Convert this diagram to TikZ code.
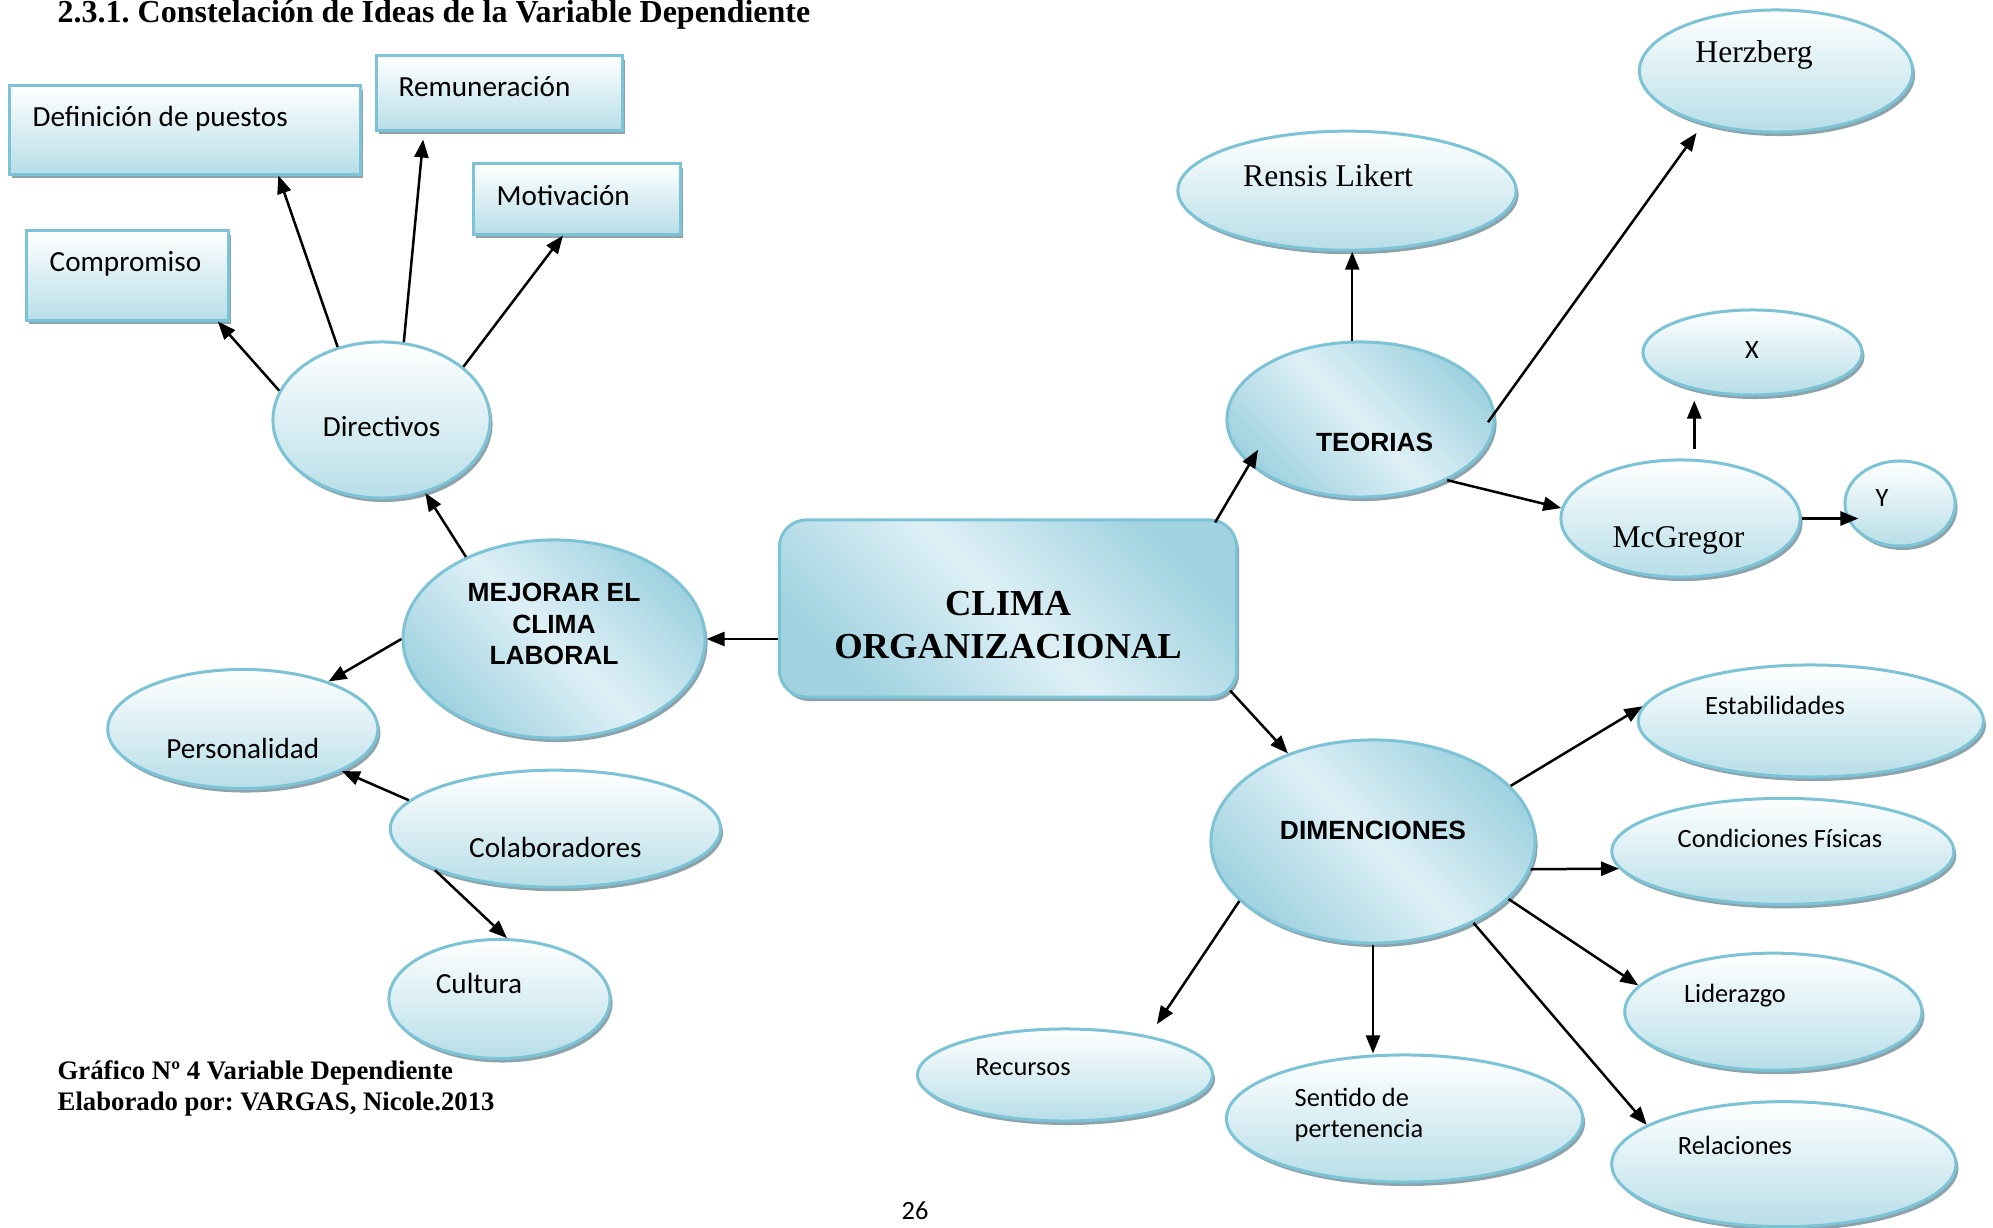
\documentclass[tikz,border=0pt]{standalone}
\usepackage{fontspec}
\setmainfont{Liberation Serif}
\newfontfamily\calibrif{Carlito}
\newfontfamily\arialf{Liberation Sans}
\usepackage{tikz}
\usetikzlibrary{shapes.geometric,shadows,arrows.meta}
\frenchspacing
\definecolor{aqborde}{RGB}{125,195,214}
\definecolor{aqfondo}{RGB}{183,222,232}
\definecolor{aqoscuro}{RGB}{160,210,224}
\definecolor{aqclaro}{RGB}{222,240,246}
\definecolor{sombra}{RGB}{140,163,172}
\tikzset{
  sombreado/.style={drop shadow={shadow xshift=0.025cm,shadow yshift=-0.04cm,fill=sombra,opacity=1}},
  globo/.style={ellipse,draw=aqborde,line width=0.03cm,top color=white,bottom color=aqfondo,inner sep=0pt,sombreado},
  caja/.style={rectangle,draw=aqborde,line width=0.03cm,top color=white,bottom color=aqfondo,inner sep=0pt,sombreado},
  centro/.style={ellipse,draw=aqborde,line width=0.03cm,top color=aqoscuro,bottom color=aqoscuro,middle color=aqclaro,shading angle=-45,inner sep=0pt,sombreado},
  flecha/.style={-{Triangle[length=0.18cm,width=0.14cm]},line width=0.025cm},
  calib/.style={font=\calibrif\fontsize{8.3}{10}\selectfont,inner sep=0pt},
  calibd/.style={font=\calibrif\fontsize{7.5}{9.05}\selectfont,inner sep=0pt},
  romana/.style={font=\fontsize{9}{11}\selectfont,inner sep=0pt},
  arialb/.style={font=\arialf\bfseries\fontsize{7.5}{9}\selectfont,inner sep=0pt,align=center}
}
\begin{document}
\begin{tikzpicture}[x=0.01cm,y=-0.01cm]
  \useasboundingbox (0,0) rectangle (1993,1228);
  % titulo y pie
  \node[anchor=base west,inner sep=0pt,font=\bfseries\fontsize{9.1}{11}\selectfont] (titulo) at (57,23) {2.3.1. Constelación de Ideas de la Variable Dependiente};
  \node[anchor=base west,inner sep=0pt,font=\bfseries\fontsize{7.6}{9}\selectfont] (grafico) at (57,1080) {Gráfico Nº 4 Variable Dependiente};
  \node[anchor=base west,inner sep=0pt,font=\bfseries\fontsize{7.6}{9}\selectfont] (elaborado) at (57,1110) {Elaborado por: VARGAS, Nicole.2013};
  \node[calibd] (pagina) at (915,1211) {26};

  % rama izquierda
  \node[caja,minimum width=3.50cm,minimum height=0.88cm] (def) at (185,130) {};
  \node[caja,minimum width=2.45cm,minimum height=0.74cm] (rem) at (499.5,93) {};
  \node[caja,minimum width=2.06cm,minimum height=0.70cm] (mot) at (577,199) {};
  \node[caja,minimum width=2.01cm,minimum height=0.89cm] (comp) at (127.5,275.5) {};
  \node[calib,anchor=west] (def-t) at (32,119) {Definición de puestos};
  \node[calib,anchor=west] (rem-t) at (398,87) {Remuneración};
  \node[calib,anchor=west] (mot-t) at (496,196) {Motivación};
  \node[calib,anchor=west] (comp-t) at (49,264) {Compromiso};

  \node[globo,minimum width=2.17cm,minimum height=1.56cm] (dir) at (381.5,420) {};
  \node[calib] (dir-t) at (381.5,427) {Directivos};
  \node[centro,minimum width=3.02cm,minimum height=1.98cm] (mej) at (554,639) {};
  \node[arialb] (mej-t) at (554,624) {MEJORAR EL\\CLIMA\\LABORAL};
  \node[globo,minimum width=2.70cm,minimum height=1.19cm] (pers) at (242.8,729) {};
  \node[calib] (pers-t) at (242.8,748.6) {Personalidad};
  \node[globo,minimum width=3.30cm,minimum height=1.17cm] (colab) at (555.4,828.7) {};
  \node[calib] (colab-t) at (555.4,847.8) {Colaboradores};
  \node[globo,minimum width=2.21cm,minimum height=1.19cm] (cult) at (499.5,999) {};
  \node[calib] (cult-t) at (479,983.8) {Cultura};

  % nodo central
  \node[centro,rectangle,rounded corners=0.27cm,minimum width=4.57cm,minimum height=1.77cm] (clima) at (1008,608.5) {};
  \node[inner sep=0pt,align=center,font=\bfseries\fontsize{10.4}{12.1}\selectfont] (clima-t) at (1008,625) {CLIMA\\ORGANIZACIONAL};

  % teorias
  \node[centro,minimum width=2.67cm,minimum height=1.55cm] (teo) at (1360.5,419.5) {};
  \node[arialb] (teo-t) at (1374.7,442.7) {TEORIAS};
  \node[globo,minimum width=3.38cm,minimum height=1.19cm] (rensis) at (1347,190.7) {};
  \node[romana] (rensis-t) at (1328,175.4) {Rensis Likert};
  \node[globo,minimum width=2.73cm,minimum height=1.22cm] (herz) at (1776,71) {};
  \node[romana] (herz-t) at (1754,54.7) {Herzberg};
  \node[globo,minimum width=2.39cm,minimum height=1.17cm] (mcg) at (1680.5,518.5) {};
  \node[romana] (mcg-t) at (1678.5,540) {McGregor};
  \node[globo,minimum width=2.19cm,minimum height=0.85cm] (mcx) at (1752.5,352.5) {};
  \node[calibd] (mcx-t) at (1752,350) {X};
  \node[globo,minimum width=1.10cm,minimum height=0.85cm] (mcy) at (1900,503.5) {};
  \node[calibd] (mcy-t) at (1882,498) {Y};

  % dimensiones
  \node[centro,minimum width=3.24cm,minimum height=2.03cm] (dim) at (1373,841.5) {};
  \node[arialb] (dim-t) at (1373,830) {DIMENCIONES};
  \node[globo,minimum width=3.45cm,minimum height=1.12cm] (estab) at (1810.8,721) {};
  \node[calibd] (estab-t) at (1775,705.3) {Estabilidades};
  \node[globo,minimum width=3.42cm,minimum height=1.06cm] (cond) at (1782.8,851.4) {};
  \node[calibd] (cond-t) at (1780,838.7) {Condiciones Físicas};
  \node[globo,minimum width=2.97cm,minimum height=1.17cm] (lid) at (1773.3,1011.7) {};
  \node[calibd] (lid-t) at (1735,995.4) {Liderazgo};
  \node[globo,minimum width=3.44cm,minimum height=1.25cm] (rel) at (1783.8,1164.2) {};
  \node[calibd] (rel-t) at (1735,1145) {Relaciones};
  \node[globo,minimum width=2.95cm,minimum height=0.92cm] (recur) at (1065,1075) {};
  \node[calibd] (recur-t) at (1023,1067.6) {Recursos};
  \node[globo,minimum width=3.56cm,minimum height=1.27cm] (sent) at (1404.5,1118.5) {};
  \node[calibd,anchor=west,align=left] (sent-t) at (1294,1115) {Sentido de\\pertenencia};

  % flechas
  \draw[flecha] (dir.164) -- (comp.-27);
  \draw[flecha] (dir.121) -- (def.-26);
  \draw[flecha,shorten >=0.08cm] (dir.74) -- (rem.207);
  \draw[flecha] (dir.33) -- (mot.249);
  \draw[flecha] (mej.137) -- (dir.-59);
  \draw[flecha] (mej.east -| clima.west) -- (mej.east);
  \draw[flecha] (mej.west) -- (pers.29);
  \draw[flecha] (colab.169) -- (pers.-23);
  \draw[flecha] (colab.199) -- (cult.83);
  \draw[flecha,shorten >=-0.17cm] ([shift={(-23,4)}]clima.north east) -- (teo.202);
  \draw[flecha] (teo.96) -- (teo.96 |- rensis.south);
  \draw[flecha,shorten <=-0.12cm,shorten >=0.11cm] (teo.3) -- (herz.216);
  \draw[flecha] (teo.-35) -- (mcg.175);
  \draw[flecha,shorten <=0.1cm,shorten >=0.04cm] (mcg.77) -- (mcg.77 |- mcx.south);
  \draw[flecha,shorten >=-0.15cm] (mcg.east) -- (mcg.east -| mcy.west);
  \draw[flecha] ([shift={(-8,-8)}]clima.south east) -- (dim.134);
  \draw[flecha] (dim.22) -- (estab.175);
  \draw[flecha] (dim.-10) -- (cond.186);
  \draw[flecha] (dim.-23) -- (lid.169);
  \draw[flecha] (dim.-39) -- (rel.164);
  \draw[flecha] (dim.south) -- (dim.south |- sent.north);
  \draw[flecha,shorten >=0.14cm] (dim.204) -- (recur.25);
\end{tikzpicture}
\end{document}
